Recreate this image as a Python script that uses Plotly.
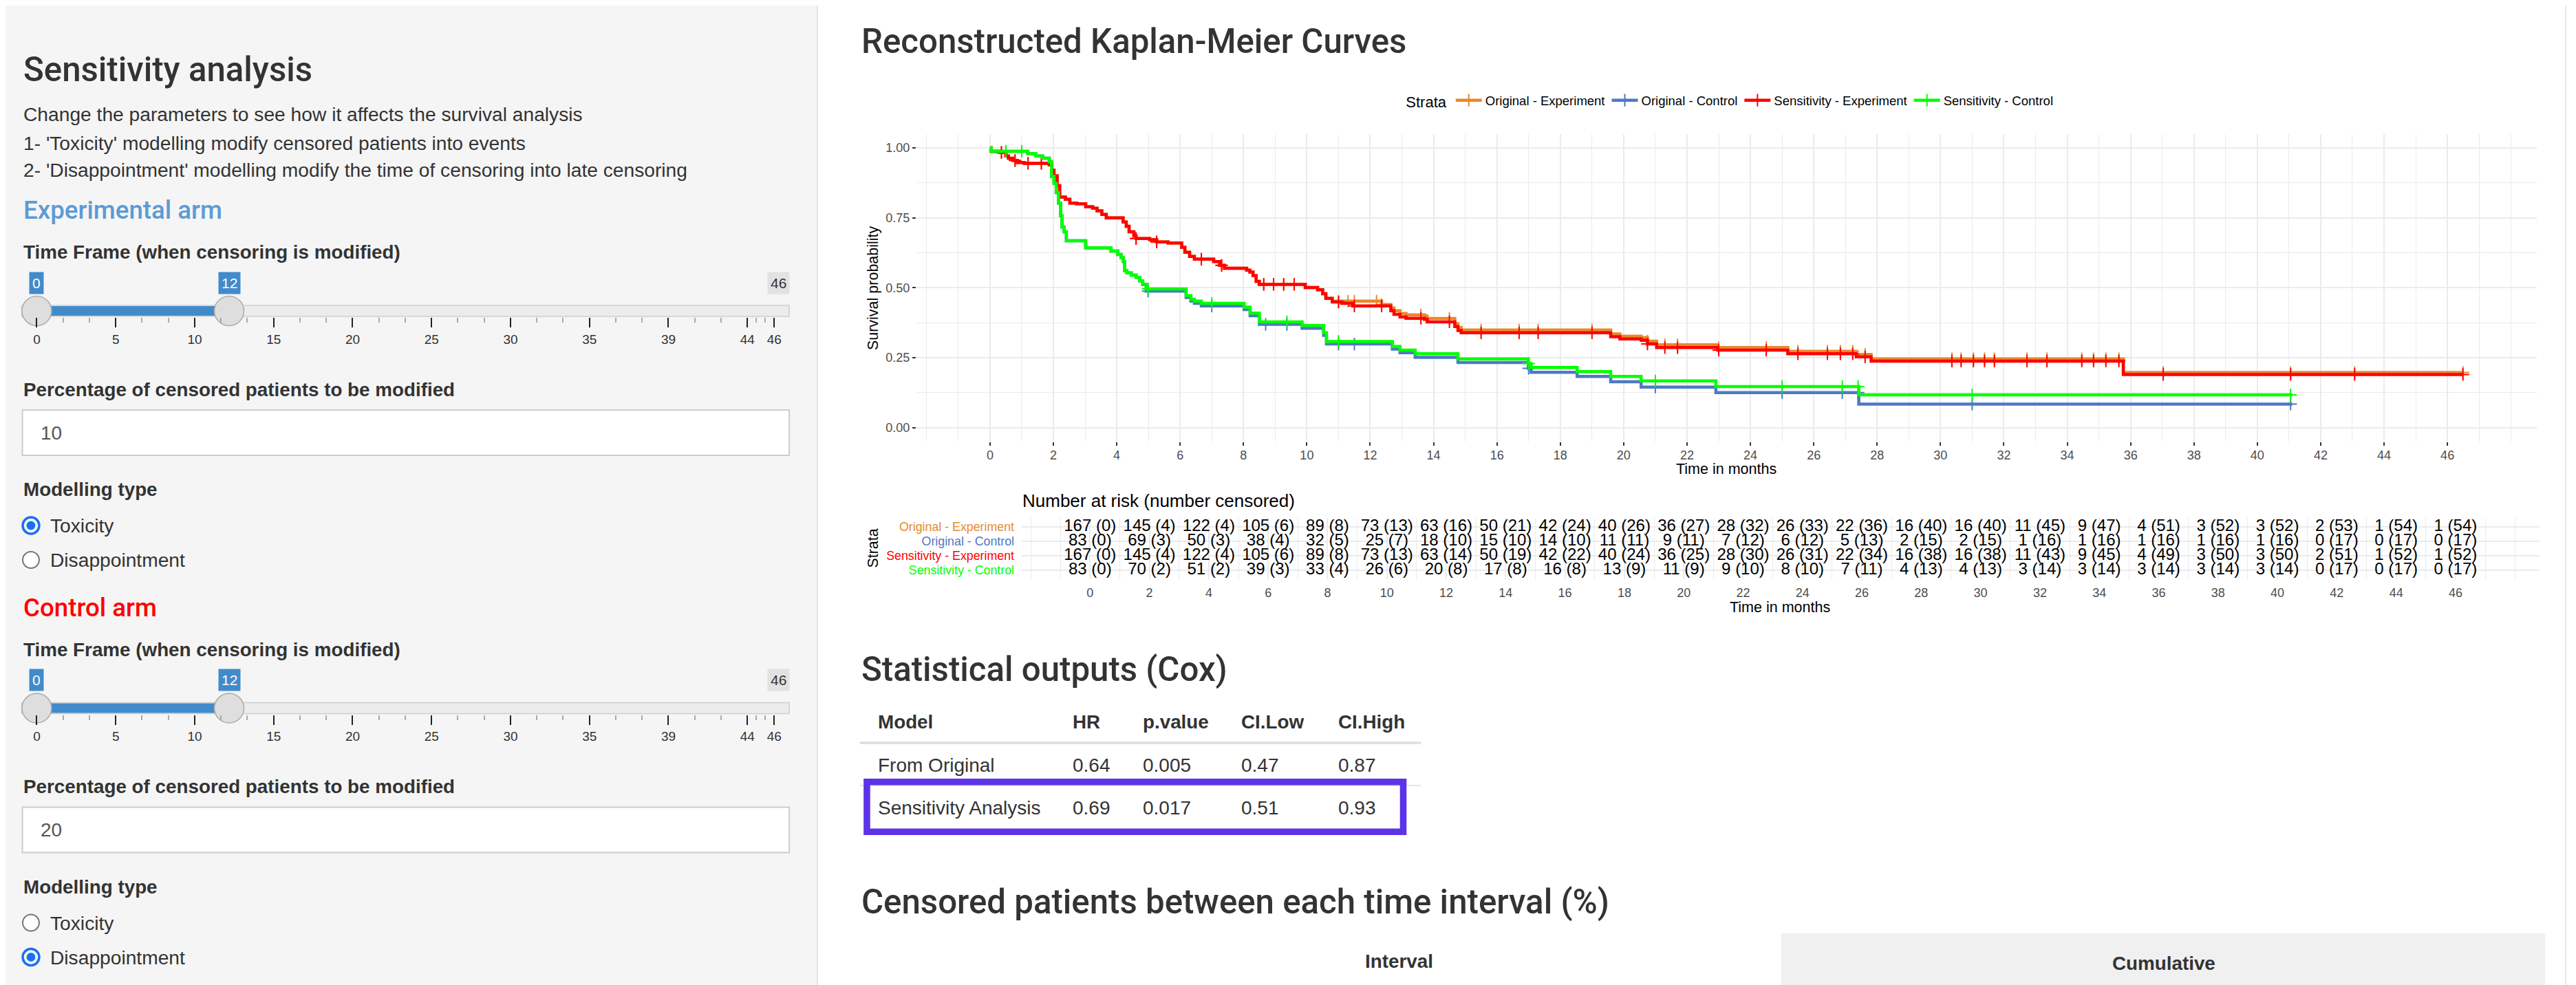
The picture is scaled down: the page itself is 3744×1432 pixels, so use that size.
import numpy as np
import plotly.graph_objects as go

W, H = 3744, 1432
OFF = 8  # margen por defecto del <body> de la pagina
FONT = "Liberation Sans"
HEAD = "Roboto"

# --- Curvas KM ---
oe_t = [0, 0.04, 0.29, 0.5, 0.58, 0.72, 0.86, 1.08, 1.87, 1.95, 2.02, 2.12, 2.2, 2.38, 2.52, 2.74,
        3.02, 3.24, 3.38, 3.53, 3.67, 4.2, 4.3, 4.39, 4.54, 4.61, 5.04, 5.26, 5.62, 6.05, 6.15, 6.3,
        6.45, 7.06, 7.25, 7.4, 8.1, 8.2, 8.3, 8.4, 8.5, 9.95, 10.34, 10.5, 10.6, 10.8, 12.36, 12.65,
        12.75, 12.94, 13.13, 13.71, 13.8, 14.67, 14.77, 14.87, 19.59, 19.88, 20.55, 20.75, 21.04,
        22.97, 25.18, 27.34, 27.81, 35.77, 46.5]
oe_s = [1, 0.988, 0.984, 0.971, 0.963, 0.955, 0.948, 0.945, 0.939, 0.92, 0.90, 0.865, 0.824, 0.816,
        0.803, 0.80, 0.79, 0.784, 0.775, 0.762, 0.75, 0.735, 0.72, 0.70, 0.685, 0.676, 0.672, 0.664,
        0.66, 0.645, 0.627, 0.612, 0.602, 0.594, 0.58, 0.57, 0.563, 0.556, 0.543, 0.523, 0.512, 0.501,
        0.493, 0.479, 0.462, 0.452, 0.44, 0.428, 0.418, 0.408, 0.403, 0.398, 0.39, 0.372, 0.358,
        0.349, 0.335, 0.327, 0.322, 0.309, 0.296, 0.286, 0.273, 0.262, 0.246, 0.197, 0.197]
oe_cens = [0.36, 0.79, 1.2, 1.62, 4.61, 5.26, 6.67, 7.31, 8.64, 8.95, 9.27, 9.6, 11.0, 11.3, 11.5,
           12.2, 12.36, 13.6, 14.5, 15.5, 16.7, 17.3, 19.0, 20.75, 21.3, 21.7, 23.0, 24.5, 25.5,
           26.43, 26.84, 27.23, 27.62, 30.36, 30.65, 31.04, 31.39, 31.7, 32.73, 33.36, 34.46, 34.83,
           35.22, 35.63, 37.03, 41.05, 43.07, 46.49]

oc_t = [0, 0.04, 1.19, 1.44, 1.66, 1.87, 1.94, 2.02, 2.09, 2.16, 2.23, 2.27, 2.34, 2.41, 3.02, 3.82,
        4.03, 4.14, 4.21, 4.25, 4.32, 4.46, 4.61, 4.72, 4.82, 4.93, 6.19, 6.34, 6.45, 6.67, 8.02,
        8.21, 8.5, 9.85, 10.53, 10.62, 12.7, 12.94, 13.42, 14.77, 16.99, 17.08, 18.53, 19.59, 20.55,
        22.91, 27.42, 41.1]
oc_s = [1, 0.988, 0.98, 0.971, 0.963, 0.951, 0.898, 0.873, 0.84, 0.803, 0.758, 0.717, 0.70, 0.668,
        0.643, 0.631, 0.619, 0.607, 0.594, 0.561, 0.553, 0.545, 0.537, 0.525, 0.512, 0.488, 0.465,
        0.452, 0.444, 0.435, 0.422, 0.40, 0.369, 0.355, 0.33, 0.299, 0.281, 0.268, 0.251, 0.233,
        0.212, 0.198, 0.183, 0.164, 0.145, 0.125, 0.084, 0.084]
oc_cens = [4.99, 7.0, 8.7, 9.37, 11.0, 11.5, 17.0, 21.0, 25.0, 26.9, 27.4, 31.0, 41.05]

se_t = [0, 0.04, 0.29, 0.5, 0.58, 0.72, 0.86, 1.08, 1.87, 1.95, 2.02, 2.12, 2.2, 2.38, 2.52, 2.74,
        3.02, 3.24, 3.38, 3.53, 3.67, 4.2, 4.3, 4.39, 4.54, 4.61, 5.04, 5.26, 5.62, 6.05, 6.15, 6.3,
        6.45, 7.06, 7.25, 7.4, 8.1, 8.2, 8.3, 8.4, 8.5, 9.95, 10.34, 10.5, 10.6, 10.8, 11.1, 11.45,
        12.65, 12.75, 12.94, 13.13, 13.71, 13.8, 14.67, 14.77, 14.87, 19.59, 19.88, 20.55, 20.75,
        21.04, 22.97, 25.18, 27.34, 27.81, 35.77, 46.5]
se_s = [1, 0.988, 0.984, 0.971, 0.963, 0.955, 0.948, 0.945, 0.939, 0.92, 0.90, 0.865, 0.824, 0.816,
        0.803, 0.80, 0.79, 0.784, 0.775, 0.762, 0.75, 0.735, 0.72, 0.70, 0.685, 0.676, 0.672, 0.664,
        0.66, 0.645, 0.627, 0.612, 0.602, 0.594, 0.58, 0.57, 0.563, 0.556, 0.543, 0.523, 0.512, 0.501,
        0.493, 0.479, 0.462, 0.449, 0.444, 0.435, 0.418, 0.405, 0.396, 0.391, 0.387, 0.378, 0.361,
        0.347, 0.339, 0.325, 0.317, 0.312, 0.299, 0.286, 0.277, 0.264, 0.253, 0.238, 0.19, 0.19]
se_cens = [0.36, 0.79, 1.2, 1.62, 4.61, 5.26, 6.67, 7.31, 8.64, 8.95, 9.27, 9.6, 11.0, 11.5, 12.36,
           13.6, 14.5, 15.5, 16.7, 17.3, 19.0, 20.75, 21.3, 21.7, 23.0, 24.5, 25.5, 26.43, 26.84,
           27.23, 27.62, 30.36, 30.65, 31.04, 31.39, 31.7, 32.73, 33.36, 34.46, 34.83, 35.22, 35.63,
           37.03, 41.05, 43.07, 46.49]

sc_t = oc_t
sc_s = [1, 0.988, 0.98, 0.971, 0.963, 0.951, 0.898, 0.873, 0.84, 0.803, 0.758, 0.717, 0.70, 0.668,
        0.643, 0.631, 0.619, 0.607, 0.594, 0.561, 0.553, 0.545, 0.537, 0.525, 0.512, 0.496, 0.472,
        0.459, 0.452, 0.444, 0.431, 0.409, 0.378, 0.365, 0.339, 0.308, 0.29, 0.277, 0.264, 0.246,
        0.229, 0.215, 0.2, 0.183, 0.167, 0.147, 0.117, 0.117]
sc_cens = [0.5, 1.0, 4.99, 7.0, 9.37, 11.0, 17.0, 21.0, 25.0, 26.9, 27.4, 31.0, 41.05]

strata_names = ["Original - Experiment", "Original - Control",
                "Sensitivity - Experiment", "Sensitivity - Control"]
strata_colors = ["#E8892B", "#4E79C3", "#FF0000", "#00FF00"]

# --- Tabla de riesgo ---
risk_times = list(range(0, 47, 2))
oe_risk = [167, 145, 122, 105, 89, 73, 63, 50, 42, 40, 36, 28, 26, 22, 16, 16, 11, 9, 4, 3, 3, 2, 1, 1]
oe_rcens = [0, 4, 4, 6, 8, 13, 16, 21, 24, 26, 27, 32, 33, 36, 40, 40, 45, 47, 51, 52, 52, 53, 54, 54]
oc_risk = [83, 69, 50, 38, 32, 25, 18, 15, 14, 11, 9, 7, 6, 5, 2, 2, 1, 1, 1, 1, 1, 0, 0, 0]
oc_rcens = [0, 3, 3, 4, 5, 7, 10, 10, 10, 11, 11, 12, 12, 13, 15, 15, 16, 16, 16, 16, 16, 17, 17, 17]
se_risk = [167, 145, 122, 105, 89, 73, 63, 50, 42, 40, 36, 28, 26, 22, 16, 16, 11, 9, 4, 3, 3, 2, 1, 1]
se_rcens = [0, 4, 4, 6, 8, 13, 14, 19, 22, 24, 25, 30, 31, 34, 38, 38, 43, 45, 49, 50, 50, 51, 52, 52]
sc_risk = [83, 70, 51, 39, 33, 26, 20, 17, 16, 13, 11, 9, 8, 7, 4, 4, 3, 3, 3, 3, 3, 0, 0, 0]
sc_rcens = [0, 2, 2, 3, 4, 6, 8, 8, 8, 9, 9, 10, 10, 11, 13, 13, 14, 14, 14, 14, 14, 17, 17, 17]
km_xticks = list(range(0, 47, 2))
km_yticks = [0, 0.25, 0.5, 0.75, 1.0]

# --- Tabla Cox ---
cox_cols = ["Model", "HR", "p.value", "CI.Low", "CI.High"]
cox_model = ["From Original", "Sensitivity Analysis"]
cox_hr = ["0.64", "0.69"]
cox_p = ["0.005", "0.017"]
cox_low = ["0.47", "0.51"]
cox_high = ["0.87", "0.93"]

# --- Parametros del panel lateral ---
slider_max = 46
exp_frame = [0, 12]
ctl_frame = [0, 12]
exp_pct = "10"
ctl_pct = "20"
exp_model = "Toxicity"
ctl_model = "Disappointment"
model_choices = ["Toxicity", "Disappointment"]
slider_grid = ["0", "5", "10", "15", "20", "25", "30", "35", "39", "44", "46"]

SX = 27.6  # margen izquierdo del panel lateral


def fx(p):
    return (p - OFF) / W


def fy(p):
    return 1 - (p - OFF) / H


def label(fig, text, x, y, size, color="#333", weight="normal", xanchor="left", angle=0, family=FONT):
    """Texto en coordenadas de pixel."""
    fig.add_annotation(text=text, x=fx(x), y=fy(y), xref="paper", yref="paper",
                       xanchor=xanchor, yanchor="middle", showarrow=False, textangle=angle,
                       borderpad=0,
                       font=dict(family=family, size=size, color=color, weight=weight))


def step_value(t, s, x):
    i = np.searchsorted(np.array(t), x, side="right") - 1
    return s[i]


def add_slider(fig, n, values, track_y, box_y):
    """Slider de rango dibujado sobre un eje propio."""
    xa, ya = "x%d" % n, "y%d" % n
    step = 1.0707 * slider_max / 10
    major = [i * step for i in range(10)] + [slider_max]
    minor = []
    for a, b in zip(major[:-1], major[1:]):
        minor += [a + (b - a) / 3, a + 2 * (b - a) / 3]
    fig.add_shape(type="rect", xref="paper", yref="paper", x0=fx(SX - 1), x1=fx(1147),
                  y0=fy(track_y + 8), y1=fy(track_y - 8), fillcolor="#ececec",
                  line=dict(color="#cfcfcf", width=1.5), layer="below")
    fig.add_trace(go.Scatter(x=values, y=[0, 0], mode="lines", xaxis=xa, yaxis=ya,
                             line=dict(color="#428bca", width=14), cliponaxis=False,
                             showlegend=False, hoverinfo="skip"))
    fig.add_trace(go.Scatter(x=values, y=[0, 0], mode="markers", xaxis=xa, yaxis=ya,
                             marker=dict(size=43, color="#dedede", line=dict(color="#ababab", width=1.5)),
                             cliponaxis=False, showlegend=False, hoverinfo="skip"))
    for v in values:
        fig.add_annotation(text=str(v), x=v, xref=xa, y=fy(box_y), yref="paper", showarrow=False,
                           yanchor="middle", bgcolor="#428bca", borderpad=4,
                           font=dict(family=FONT, size=21, color="white"))
    fig.add_annotation(text=str(slider_max), x=slider_max, xref=xa, xshift=6, y=fy(box_y), yref="paper",
                       yanchor="middle", showarrow=False, bgcolor="#e2e2e2", borderpad=4,
                       font=dict(family=FONT, size=21, color="#333"))
    axis = dict(domain=[fx(SX + 21), fx(1125)], range=[0, slider_max], anchor=ya,
                tickmode="array", tickvals=major, ticktext=slider_grid, ticks="outside",
                ticklen=14, tickwidth=2, tickcolor="#222", ticklabelstandoff=1,
                tickfont=dict(family=FONT, size=19, color="#333"),
                minor=dict(tickmode="array", tickvals=minor, ticks="outside", ticklen=7,
                           tickwidth=1.5, tickcolor="#aaa", showgrid=False),
                showgrid=False, zeroline=False, showline=False, fixedrange=True)
    yaxis = dict(domain=[fy(track_y + 9), fy(track_y - 9)], range=[-1, 1], visible=False,
                 fixedrange=True)
    fig.update_layout({"xaxis%d" % n: axis, "yaxis%d" % n: yaxis})


def radio(fig, y, checked):
    r, cx = 12, SX + 12.5
    if checked:
        fig.add_shape(type="circle", xref="paper", yref="paper", x0=fx(cx - r), x1=fx(cx + r),
                      y0=fy(y + r), y1=fy(y - r), fillcolor="white",
                      line=dict(color="#1a6ff2", width=3.5))
        fig.add_shape(type="circle", xref="paper", yref="paper", x0=fx(cx - 6.5), x1=fx(cx + 6.5),
                      y0=fy(y + 6.5), y1=fy(y - 6.5), fillcolor="#1a6ff2", line=dict(width=0))
    else:
        fig.add_shape(type="circle", xref="paper", yref="paper", x0=fx(cx - r), x1=fx(cx + r),
                      y0=fy(y + r), y1=fy(y - r), fillcolor="white",
                      line=dict(color="#767676", width=2))


def input_box(fig, y0, y1, value):
    fig.add_shape(type="rect", xref="paper", yref="paper", x0=fx(SX), x1=fx(1147),
                  y0=fy(y1), y1=fy(y0), fillcolor="white", line=dict(color="#cccccc", width=2))
    label(fig, value, SX + 26, (y0 + y1) / 2, 28, color="#555")


fig = go.Figure()

# panel lateral
fig.add_shape(type="rect", xref="paper", yref="paper", x0=fx(-4), x1=fx(1188), y0=fy(1436), y1=fy(-4),
              fillcolor="#f5f5f5", line=dict(color="#e3e3e3", width=2), layer="below")
fig.add_shape(type="line", xref="paper", yref="paper", x0=fx(3740), x1=fx(3740), y0=0, y1=1,
              line=dict(color="#e6e6e6", width=2), layer="below")

# --- Curvas KM ---
curves = [(oe_t, oe_s, oe_cens), (oc_t, oc_s, oc_cens), (se_t, se_s, se_cens), (sc_t, sc_s, sc_cens)]
for (t, s, cens), name, col in zip(curves, strata_names, strata_colors):
    fig.add_trace(go.Scatter(x=t, y=s, mode="lines", line=dict(color=col, width=4.5, shape="hv"),
                             showlegend=False, name=name))
    fig.add_trace(go.Scatter(x=cens, y=[step_value(t, s, c) for c in cens], mode="markers",
                             marker=dict(symbol="cross-thin", size=13, line=dict(color=col, width=2)),
                             showlegend=False, name=name))
for name, col in zip(strata_names, strata_colors):
    fig.add_trace(go.Scatter(x=[None], y=[None], mode="lines+markers", name=name,
                             line=dict(color=col, width=4.5),
                             marker=dict(symbol="cross-thin", size=13, line=dict(color=col, width=2))))

# --- Tabla de riesgo ---
risk_rows = [(oe_risk, oe_rcens), (oc_risk, oc_rcens), (se_risk, se_rcens), (sc_risk, sc_rcens)]
for (n, c), name in zip(risk_rows, strata_names):
    fig.add_trace(go.Scatter(x=risk_times, y=[name] * len(n), mode="text",
                             text=["%d (%d)" % (a, b) for a, b in zip(n, c)],
                             textfont=dict(family=FONT, size=24, color="black"),
                             xaxis="x2", yaxis="y2", showlegend=False, cliponaxis=False))

grid = dict(showgrid=True, gridcolor="#EBEBEB", gridwidth=2.2, zeroline=False, showline=False)
xr = [-2.325, 48.825]
fig.update_layout(
    width=W, height=H, margin=dict(l=0, r=0, t=0, b=0),
    paper_bgcolor="white", plot_bgcolor="rgba(0,0,0,0)",
    font=dict(family=FONT, color="#333"),
    legend=dict(orientation="h", x=fx(2045), xanchor="left", y=fy(146.7), yanchor="middle",
                title=dict(text="Strata", side="left", font=dict(size=22, color="black")),
                font=dict(size=18.5, color="black"), bgcolor="rgba(0,0,0,0)", itemwidth=38),
    xaxis=dict(domain=[fx(1332.5), fx(3698)], range=xr, anchor="y", tickmode="array",
               tickvals=km_xticks, ticks="outside", ticklen=5, tickwidth=2, tickcolor="#333",
               ticklabelstandoff=-2, tickfont=dict(size=18, color="#4D4D4D"),
               minor=dict(tickmode="linear", tick0=0, dtick=1, showgrid=True,
                          gridcolor="#EBEBEB", gridwidth=1.1), **grid),
    yaxis=dict(domain=[fy(642), fy(194.7)], range=[-0.05, 1.05], anchor="x", tickmode="array",
               tickvals=km_yticks, tickformat=".2f", ticks="outside", ticklen=5, tickwidth=2,
               tickcolor="#333", tickfont=dict(size=18, color="#4D4D4D"),
               minor=dict(tickmode="linear", tick0=0, dtick=0.125, showgrid=True,
                          gridcolor="#EBEBEB", gridwidth=1.1), **grid),
    xaxis2=dict(domain=[fx(1485.3), fx(3701.6)], range=xr, anchor="y2", tickmode="array",
                tickvals=km_xticks, ticks="", ticklabelstandoff=7,
                tickfont=dict(size=18, color="#4D4D4D"),
                minor=dict(tickmode="linear", tick0=0, dtick=1, showgrid=True,
                           gridcolor="#EBEBEB", gridwidth=1.1), **grid),
    yaxis2=dict(domain=[fy(841.7), fy(753)], anchor="x2", type="category",
                categoryorder="array", categoryarray=strata_names[::-1], range=[-0.6, 3.6],
                tickmode="array", tickvals=strata_names,
                ticktext=["<span style='color:%s'>%s</span>" % (c, n)
                          for n, c in zip(strata_names, strata_colors)],
                ticks="", ticklabelstandoff=9, tickfont=dict(size=17.8), **grid),
)

label(fig, "Survival probability", 1269, 418.5, 21.5, color="black", xanchor="center", angle=-90)
label(fig, "Time in months", 2515, 682, 21.5, color="black", xanchor="center")
label(fig, "Number at risk (number censored)", 1486, 728, 26, color="black")
label(fig, "Strata", 1269, 797, 21.5, color="black", xanchor="center", angle=-90)
label(fig, "Time in months", 2593, 883, 21.5, color="black", xanchor="center")

# --- Panel lateral ---
label(fig, "Sensitivity analysis", SX, 101, 49.2, weight=500, family=HEAD)
label(fig, "Change the parameters to see how it affects the survival analysis", SX, 166.5, 28.2)
label(fig, "1- 'Toxicity' modelling modify censored patients into events", SX, 207.5, 28.2)
label(fig, "2- 'Disappointment' modelling modify the time of censoring into late censoring", SX, 247, 28.2)

arms = [("Experimental arm", "#5B9BD5", exp_frame, exp_pct, exp_model, 0),
        ("Control arm", "#FF0000", ctl_frame, ctl_pct, ctl_model, 577.5)]
for k, (title, col, frame, pct, model, dy) in enumerate(arms):
    label(fig, title, SX, 306 + dy, 36.7, color=col, weight=500, family=HEAD)
    label(fig, "Time Frame (when censoring is modified)", SX, 366.5 + dy, 27.8, weight="bold")
    add_slider(fig, 3 + k, frame, 452 + dy, 411 + dy)
    label(fig, "Percentage of censored patients to be modified", SX, 566 + dy, 27.8, weight="bold")
    input_box(fig, 596 + dy, 662 + dy, pct)
    label(fig, "Modelling type", SX, 712 + dy, 27.8, weight="bold")
    for j, choice in enumerate(model_choices):
        radio(fig, 764 + dy + 50 * j, choice == model)
        label(fig, choice, SX + 40, 764 + dy + 50 * j, 28.2)

# --- Panel principal ---
label(fig, "Reconstructed Kaplan-Meier Curves", 1251, 60, 49.2, weight=500, family=HEAD)
label(fig, "Statistical outputs (Cox)", 1251, 972.5, 49.2, weight=500, family=HEAD)
label(fig, "Censored patients between each time interval (%)", 1251, 1311, 49.2, weight=500, family=HEAD)

col_x = [1275, 1560, 1662, 1806, 1947]
for cx, name in zip(col_x, cox_cols):
    label(fig, name, cx, 1049, 27.8, weight="bold")
for i, row in enumerate(zip(cox_model, cox_hr, cox_p, cox_low, cox_high)):
    for cx, val in zip(col_x, row):
        label(fig, val, cx, 1112.5 + 61.5 * i, 28)
fig.add_shape(type="line", xref="paper", yref="paper", x0=fx(1250), x1=fx(2069), y0=fy(1080),
              y1=fy(1080), line=dict(color="#dddddd", width=3.5))
fig.add_shape(type="line", xref="paper", yref="paper", x0=fx(1250), x1=fx(2069), y0=fy(1142),
              y1=fy(1142), line=dict(color="#dddddd", width=1.5))
fig.add_shape(type="rect", xref="paper", yref="paper", x0=fx(1260.3), x1=fx(2043.2), y0=fy(1209.2),
              y1=fy(1136.8), line=dict(color="#5C33E8", width=9.6))

fig.add_shape(type="rect", xref="paper", yref="paper", x0=fx(2595), x1=fx(3710), y0=fy(1440),
              y1=fy(1357), fillcolor="#f0f0f0", line=dict(width=0), layer="below")
label(fig, "Interval", 2037, 1397, 27.8, weight="bold", xanchor="center")
label(fig, "Cumulative", 3153, 1400, 27.8, weight="bold", xanchor="center")

fig.write_html("out.html")
